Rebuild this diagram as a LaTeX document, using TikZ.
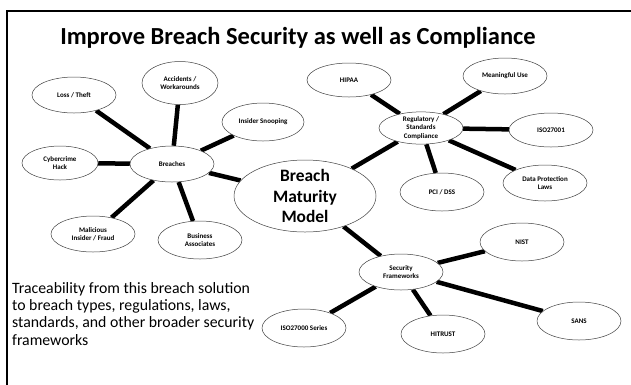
\documentclass[tikz,border=0pt]{standalone}
\usepackage{fontspec}
\setmainfont{Carlito}
\usetikzlibrary{shapes.geometric,backgrounds}
\begin{document}
\begin{tikzpicture}[x=1pt,y=-1pt,
  bub/.style={ellipse, draw=black!75, line width=0.5pt, fill=white, inner sep=0pt,
    align=center, minimum width=84pt, minimum height=36pt,
    font=\bfseries\fontsize{7}{8.4}\selectfont},
  bigbub/.style={ellipse, draw=black!75, line width=0.5pt, fill=white, inner xsep=0pt, inner ysep=-5pt,
    align=center, minimum width=142pt, minimum height=72pt,
    font=\bfseries\fontsize{17.4}{20.5}\selectfont},
  conn/.style={line width=4.5pt, black},
  framestyle/.style={line width=2pt, black}]
\useasboundingbox (0,0) rectangle (631,384);
\draw[framestyle] (7,385) -- (7,11) -- (632,11);
\node[font=\bfseries\fontsize{24.5}{30}\selectfont, anchor=base] (title) at (298,44) {Improve Breach Security as well as Compliance};
% breach cluster
\node[bigbub] (bmm) at (305,196) {Breach\\Maturity\\Model};
\node[bub] (br) at (172,164) {Breaches};
\node[bub] (lt) at (74,95) {Loss / Theft};
\node[bub, minimum width=76pt, minimum height=43pt] (acc) at (180,83) {Accidents /\\Workarounds};
\node[bub, minimum width=82pt, minimum height=38pt] (ins) at (263,122) {Insider Snooping};
\node[bub, minimum width=76pt, minimum height=34pt] (cyb) at (60,163) {Cybercrime\\Hack};
\node[bub] (mal) at (93,234) {Malicious\\Insider / Fraud};
\node[bub, minimum height=38pt] (bus) at (200,240) {Business\\Associates};
% regulatory cluster
\node[bub, minimum height=32pt] (reg) at (421,128) {Regulatory /\\Standards\\Compliance};
\node[bub, minimum height=34pt] (hip) at (349,80) {HIPAA};
\node[bub] (mu) at (505,76) {Meaningful Use};
\node[bub, minimum height=34pt] (iso1) at (551,130) {ISO27001};
\node[bub] (dpl) at (545,183) {Data Protection\\Laws};
\node[bub, minimum height=38pt] (pci) at (442,192) {PCI / DSS};
% frameworks cluster
\node[bub] (sf) at (401,272) {Security\\Frameworks};
\node[bub, minimum height=38pt] (nist) at (522,242) {NIST};
\node[bub, minimum height=38pt] (iso2) at (304,328) {ISO27000 Series};
\node[bub, minimum height=38pt] (hit) at (443,334) {HITRUST};
\node[bub, minimum height=38pt] (sans) at (579,321) {SANS};
% text
\node[anchor=base west, align=left, inner sep=0pt, font=\fontsize{15.8}{17.3}\selectfont] (trace) at (12,345)
  {Traceability from this breach solution\\to breach types, regulations, laws,\\standards, and other broader security\\frameworks};
\begin{scope}[on background layer]
\foreach \t in {lt,acc,ins,cyb,mal,bus,bmm} \draw[conn] (br) -- (\t);
\foreach \t in {hip,mu,iso1,dpl,pci,bmm} \draw[conn] (reg) -- (\t);
\foreach \t in {nist,sans,hit,iso2,bmm} \draw[conn] (sf) -- (\t);
\end{scope}
\end{tikzpicture}
\end{document}
